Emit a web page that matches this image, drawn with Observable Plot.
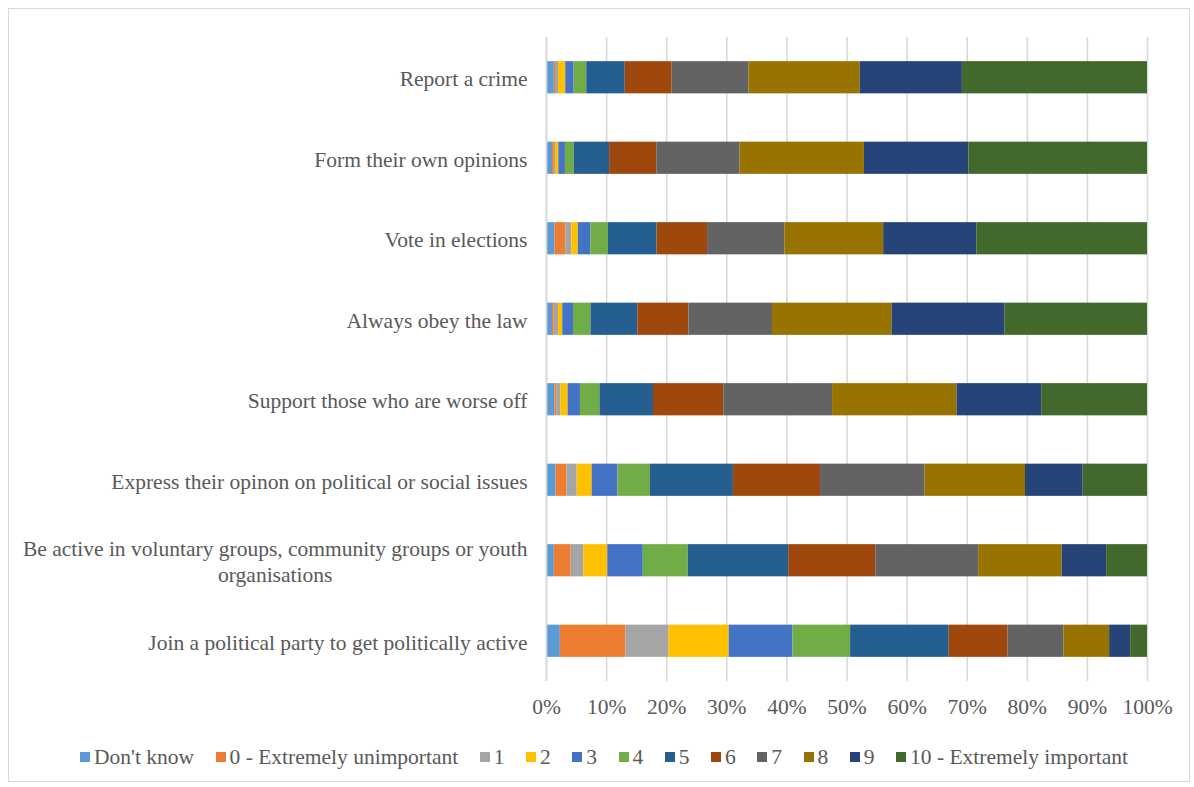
<!DOCTYPE html>
<html>
<head>
<meta charset="utf-8">
<script src="https://cdn.jsdelivr.net/npm/d3@7"></script>
<script src="https://cdn.jsdelivr.net/npm/@observablehq/plot@0.6"></script>
<style>
  body { margin: 0; background: #fff; font-family: "Liberation Serif", "Times New Roman", serif; }
  #frame { position: absolute; left: 8px; top: 8px; width: 1182px; height: 774px; border: 1px solid #d9d9d9; box-sizing: border-box; background: #fff; }
  #chart { position: absolute; left: 0; top: 0; }
  #legend { position: absolute; left: 10px; right: 0; top: 737px; display: flex; justify-content: center; align-items: center; gap: 21.5px; font-size: 21.5px; color: #595959; line-height: 22px; }
  .item { display: flex; align-items: center; white-space: pre; }
  .sw { width: 10px; height: 10px; margin-right: 4px; display: inline-block; }
</style>
</head>
<body>
<div id="frame">
  <div id="chart"></div>
  <div id="legend"></div>
</div>
<script>
const categories = [
  "Report a crime",
  "Form their own opinions",
  "Vote in elections",
  "Always obey the law",
  "Support those who are worse off",
  "Express their opinon on political or social issues",
  "Be active in voluntary groups, community groups or youth organisations",
  "Join a political party to get politically active"
];
const levels = ["Don't know", "0 - Extremely unimportant", "1", "2", "3", "4", "5", "6", "7", "8", "9", "10 - Extremely important"];
const colors = ["#5B9BD5", "#ED7D31", "#A5A5A5", "#FFC000", "#4472C4", "#70AD47", "#255E91", "#9E480E", "#636363", "#997300", "#264478", "#43682B"];

// percentage share per category (same order as categories)
const dontKnow = [1.3, 1.0, 1.4, 1.0, 1.4, 1.6, 1.3, 2.3];
const s0  = [0.2, 0.3, 1.8, 0.3, 0.3, 1.8, 2.8, 10.9];
const s1  = [0.5, 0.2, 1.0, 0.7, 0.7, 1.7, 2.1, 7.2];
const s2  = [1.2, 0.55, 1.1, 0.7, 1.2, 2.5, 4.0, 10.0];
const s3  = [1.4, 1.1, 2.1, 1.8, 2.05, 4.3, 5.9, 10.6];
const s4  = [2.1, 1.45, 2.9, 2.9, 3.25, 5.4, 7.5, 9.6];
const s5  = [6.4, 5.9, 8.1, 7.8, 8.9, 13.8, 16.7, 16.4];
const s6  = [7.8, 7.85, 8.4, 8.5, 11.7, 14.5, 14.5, 9.8];
const s7  = [12.8, 13.85, 12.9, 13.9, 18.1, 17.4, 17.1, 9.3];
const s8  = [18.5, 20.7, 16.4, 19.9, 20.7, 16.7, 13.9, 7.6];
const s9  = [17.0, 17.4, 15.5, 18.8, 14.1, 9.6, 7.4, 3.5];
const s10 = [30.8, 29.7, 28.4, 23.7, 17.6, 10.7, 6.8, 2.8];
const xTicks = [0, 10, 20, 30, 40, 50, 60, 70, 80, 90, 100];

const series = [dontKnow, s0, s1, s2, s3, s4, s5, s6, s7, s8, s9, s10];
const data = [];
categories.forEach((c, i) => {
  levels.forEach((l, j) => data.push({category: c, level: l, value: series[j][i]}));
});

function wrap(s, max) {
  const words = s.split(" ");
  const lines = [];
  let cur = "";
  for (const w of words) {
    if (cur && (cur + " " + w).length > max) { lines.push(cur); cur = w; }
    else cur = cur ? cur + " " + w : w;
  }
  lines.push(cur);
  return lines.join("\n");
}

const chart = Plot.plot({
  width: 1180,
  height: 712,
  marginLeft: 537,
  marginRight: 42,
  marginTop: 28,
  marginBottom: 40,
  style: {fontFamily: "'Liberation Serif', 'Times New Roman', serif", fontSize: "21.5px", color: "#595959", background: "transparent"},
  x: {domain: [0, 100], label: null},
  y: {domain: categories, paddingInner: 0.6, paddingOuter: 0.3, round: false, label: null},
  color: {domain: levels, range: colors},
  marks: [
    Plot.gridX(xTicks, {stroke: "#d9d9d9", strokeOpacity: 1, strokeWidth: 1.6}),
    Plot.barX(data, Plot.stackX({x: "value", y: "category", fill: "level", order: levels})),
    Plot.ruleX([0], {stroke: "#d9d9d9", strokeWidth: 1.6}),
    Plot.axisX(xTicks, {tickSize: 0, tickPadding: 17, tickFormat: d => d + "%", fill: "#595959", label: null}),
    Plot.axisY({tickSize: 0, tickPadding: 19, tickFormat: d => wrap(d, 58), lineHeight: 1.2, fill: "#595959", label: null})
  ]
});
document.getElementById("chart").appendChild(chart);

// center wrapped lines of category labels (as the original does)
chart.querySelectorAll("text").forEach(t => {
  const ts = t.querySelectorAll("tspan");
  if (ts.length > 1) {
    const w1 = ts[0].getComputedTextLength();
    ts.forEach((s, k) => {
      if (k > 0) {
        const wi = s.getComputedTextLength();
        s.setAttribute("x", (wi - w1) / 2);
      }
    });
  }
});

const legend = document.getElementById("legend");
levels.forEach((l, j) => {
  const item = document.createElement("div");
  item.className = "item";
  const sw = document.createElement("span");
  sw.className = "sw";
  sw.style.background = colors[j];
  item.appendChild(sw);
  item.appendChild(document.createTextNode(l));
  legend.appendChild(item);
});
</script>
</body>
</html>
